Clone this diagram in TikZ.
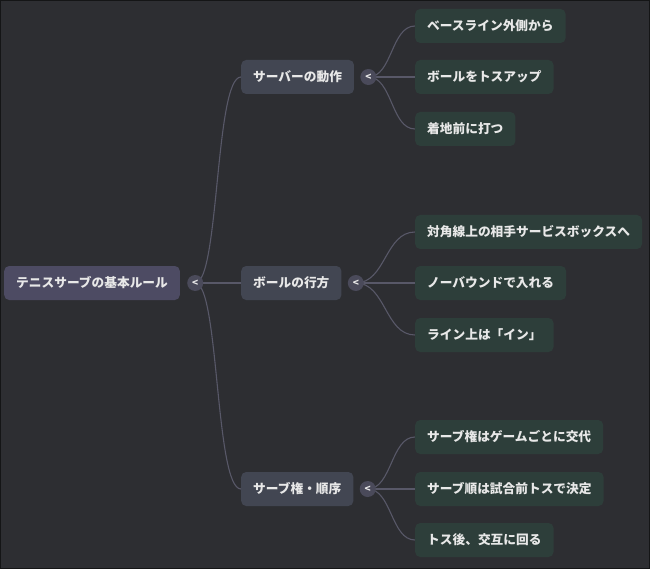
\documentclass[tikz,border=0pt]{standalone}
\usepackage{fontspec}
\usepackage{tikz}
\usetikzlibrary{positioning,backgrounds}
\newfontfamily\jpfont{Noto Sans CJK JP}
\definecolor{bgcol}{RGB}{45,46,50}
\definecolor{rootcol}{RGB}{77,75,99}
\definecolor{branchcol}{RGB}{66,70,82}
\definecolor{leafcol}{RGB}{45,62,58}
\definecolor{linkcol}{RGB}{88,88,104}
\definecolor{togglecol}{RGB}{74,74,90}
\definecolor{textcol}{RGB}{232,232,232}

\begin{document}
\begin{tikzpicture}[x=1pt,y=-1pt,
  font=\jpfont\bfseries\fontsize{12.7}{15}\selectfont,
  box/.style={rounded corners=5pt, text=textcol, minimum height=34pt,
    inner xsep=12pt, inner ysep=0pt, anchor=west},
  rootbox/.style={box, fill=rootcol},
  branchbox/.style={box, fill=branchcol},
  leafbox/.style={box, fill=leafcol},
  toggle/.style={circle, fill=togglecol, minimum size=16pt, inner sep=0pt,
    text=textcol, font=\jpfont\bfseries\fontsize{10}{10}\selectfont},
  link/.style={draw=linkcol, line width=1.1pt},
]
  \useasboundingbox (0,0) rectangle (650,569);

  \node[rootbox] (root) at (4,283) {テニスサーブの基本ルール};
  \node[toggle, right=7pt of root] (t0) {<};

  \node[branchbox] (b1) at (241,77) {サーバーの動作};
  \node[branchbox] (b2) at (241,283) {ボールの行方};
  \node[branchbox] (b3) at (241,489) {サーブ権・順序};
  \node[toggle, right=6pt of b1] (t1) {<};
  \node[toggle, right=6pt of b2] (t2) {<};
  \node[toggle, right=6pt of b3] (t3) {<};

  \node[leafbox] (l11) at (415,26) {ベースライン外側から};
  \node[leafbox] (l12) at (415,77) {ボールをトスアップ};
  \node[leafbox] (l13) at (415,129) {着地前に打つ};
  \node[leafbox] (l21) at (415,232) {対角線上の相手サービスボックスへ};
  \node[leafbox] (l22) at (415,283) {ノーバウンドで入れる};
  \node[leafbox] (l23) at (415,335) {ライン上は「イン」};
  \node[leafbox] (l31) at (415,437) {サーブ権はゲームごとに交代};
  \node[leafbox] (l32) at (415,489) {サーブ順は試合前トスで決定};
  \node[leafbox] (l33) at (415,540) {トス後、交互に回る};

  % 背景と線は下の層に
  \begin{scope}[on background layer]
  \fill[bgcol] (0,0) rectangle (650,569);
  \draw[line width=1pt, draw=black!55!bgcol] (0.5,0.5) rectangle (649.5,568.5);
  \foreach \b in {b1,b2,b3}
    \draw[link] (t0.center) .. controls +(24,0) and +(-26,0) .. (\b.west);
  \foreach \l in {l11,l12,l13}
    \draw[link] (t1.center) .. controls +(24,0) and +(-24,0) .. (\l.west);
  \foreach \l in {l21,l22,l23}
    \draw[link] (t2.center) .. controls +(30,0) and +(-30,0) .. (\l.west);
  \foreach \l in {l31,l32,l33}
    \draw[link] (t3.center) .. controls +(24,0) and +(-24,0) .. (\l.west);
  \end{scope}
\end{tikzpicture}
\end{document}
